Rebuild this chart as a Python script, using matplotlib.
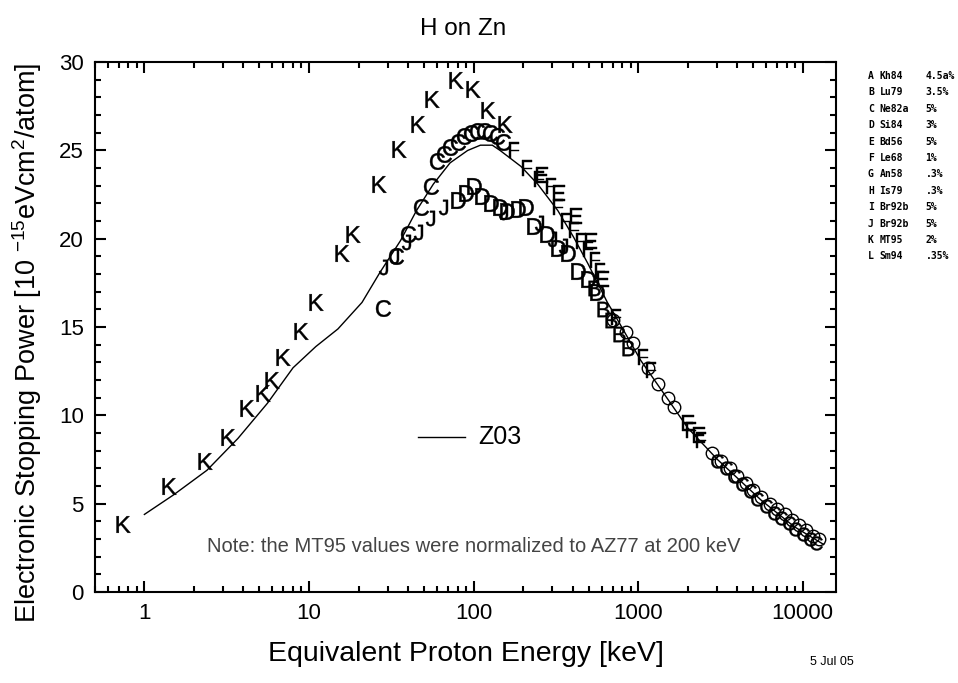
import matplotlib
matplotlib.use("Agg")
import matplotlib.pyplot as plt
from matplotlib.ticker import FixedLocator, MultipleLocator, LogLocator, NullFormatter

plt.rcParams['font.family'] = ['Liberation Sans', 'DejaVu Sans']
plt.rcParams['mathtext.fontset'] = 'custom'
plt.rcParams['mathtext.rm'] = 'Liberation Sans'

# Z03 theory curve
z03_x = [1.0, 1.5, 2.4, 3.7, 5.6, 8.0, 11, 15, 21, 27, 36, 45, 57, 72, 92, 110, 130, 145,
         194, 245, 325, 405, 495, 650, 700, 1040, 1520, 2000, 3040, 5600, 8900, 13400]
z03_y = [4.4, 5.5, 6.9, 8.7, 10.7, 12.7, 13.9, 14.9, 16.4, 18.1, 19.9, 21.6, 23.1, 24.3, 25.0, 25.3, 25.3, 25.0,
         24.1, 23.1, 21.6, 20.1, 18.6, 16.4, 15.9, 13.1, 10.9, 9.3, 7.5, 5.2, 3.7, 2.7]

# K : MT95
k_x = [0.74, 1.42, 2.32, 3.21, 4.19, 5.24, 5.95, 6.94, 8.93, 11.0, 15.9, 18.5, 26.7, 35.4,
       46.2, 56.3, 77.7, 99, 122, 155]
k_y = [3.85, 6.0, 7.4, 8.8, 10.4, 11.3, 12.0, 13.3, 14.8, 16.4, 19.2, 20.3, 23.1, 25.1,
       26.5, 27.9, 29.0, 28.5, 27.3, 26.5]

# C : Ne82a
c_x = [28, 34, 40, 48, 55, 60, 66, 72, 80, 88, 96, 105, 115, 125, 138, 150]
c_y = [16.1, 19.0, 20.3, 21.8, 23.0, 24.4, 24.8, 25.2, 25.5, 25.8, 26.0, 26.1, 26.1, 26.0, 25.8, 25.5]

# J : Br92b (lower band, low energy side)
j_x = [28, 33, 39, 46, 54, 65, 150, 250, 300, 350]
j_y = [18.4, 19.0, 19.8, 20.4, 21.2, 21.8, 21.5, 20.9, 20.0, 19.6]

# D : Si84 (lower band)
d_x = [80, 90, 100, 112, 127, 145, 160, 185, 208, 232, 280, 325, 375, 430, 495, 560]
d_y = [22.2, 22.6, 23.0, 22.4, 22.0, 21.8, 21.6, 21.7, 21.8, 20.7, 20.3, 19.5, 19.2, 18.2, 17.7, 17.0]

# F : Le68
f_x = [175, 212, 250, 295, 325, 365, 405, 450, 495, 545, 590, 730, 1070, 1200, 2100, 2400]
f_y = [25.0, 24.0, 23.4, 23.0, 21.8, 21.0, 20.5, 19.9, 19.4, 18.8, 18.2, 15.6, 13.3, 12.6, 9.2, 8.6]

# E : Bd56
e_x = [260, 330, 420, 520, 610, 2000, 2350]
e_y = [23.6, 22.6, 21.3, 19.9, 17.7, 9.6, 8.9]

# B : Lu79
b_x = [540, 612, 680, 760, 870]
b_y = [17.2, 16.0, 15.4, 14.6, 13.8]

# A : Kh84 (open circles, high energy)
a_x = [700, 840, 930, 1150, 1320, 1520, 1660, 2800, 3200, 3600, 4000, 4500, 5000, 5600,
       6300, 7000, 7800, 8600, 9500, 10500, 11500, 12500]
a_y = [15.4, 14.7, 14.1, 12.7, 11.8, 11.0, 10.5, 7.9, 7.4, 7.0, 6.6, 6.2, 5.8, 5.4,
       5.0, 4.7, 4.4, 4.1, 3.8, 3.5, 3.2, 3.0]

# G : An58 (second high-energy band)
g_x = [3000, 3400, 3800, 4300, 4800, 5300, 6000, 6700, 7400, 8200, 9000, 10000, 11000, 12000]
g_y = [7.4, 7.0, 6.6, 6.1, 5.7, 5.3, 4.9, 4.5, 4.2, 3.9, 3.6, 3.3, 3.0, 2.8]

legend_letters = ["A", "B", "C", "D", "E", "F", "G", "H", "I", "J", "K", "L"]
legend_refs = ["Kh84", "Lu79", "Ne82a", "Si84", "Bd56", "Le68", "An58", "Is79", "Br92b", "Br92b", "MT95", "Sm94"]
legend_errs = ["4.5a%", "3.5%", "5%", "3%", "5%", "1%", ".3%", ".3%", "5%", "5%", "2%", ".35%"]

xticks = [1, 10, 100, 1000, 10000]
xticklabels = ["1", "10", "100", "1000", "10000"]
yticks = [0, 5, 10, 15, 20, 25, 30]

fig = plt.figure(figsize=(9.58, 6.83), dpi=100)
ax = fig.add_axes([0.099, 0.133, 0.774, 0.776])

ax.plot(z03_x, z03_y, color='black', lw=1.0)

def letters(x, y, ch, ms=12):
    ax.plot(x, y, ls='none', marker=r'$\mathrm{%s}$' % ch, ms=ms, color='black', mew=0.3)

letters(k_x, k_y, 'K', 12)
letters(c_x, c_y, 'C', 12)
letters(j_x, j_y, 'J', 11)
letters(d_x, d_y, 'D', 12)
letters(f_x, f_y, 'F', 11)
letters(e_x, e_y, 'E', 11)
letters(b_x, b_y, 'B', 11)
ax.plot(a_x, a_y, ls='none', marker='o', ms=9, mfc='none', mec='black', mew=1.0)
letters(g_x, g_y, 'C', 10)

ax.set_xscale('log')
ax.set_xlim(0.5, 16000)
ax.set_ylim(0, 30)
ax.xaxis.set_major_locator(FixedLocator(xticks))
ax.set_xticklabels(xticklabels)
ax.xaxis.set_minor_locator(LogLocator(base=10, subs=range(2, 10), numticks=20))
ax.xaxis.set_minor_formatter(NullFormatter())
ax.yaxis.set_major_locator(FixedLocator(yticks))
ax.yaxis.set_minor_locator(MultipleLocator(1))
ax.tick_params(which='both', direction='in', top=True, right=True, labelsize=16, width=1.5)
ax.tick_params(which='major', length=8, pad=8)
ax.tick_params(which='minor', length=4)
for s in ax.spines.values():
    s.set_linewidth(1.5)

ax.set_xlabel("Equivalent Proton Energy [keV]", fontsize=20.5, labelpad=12)
ax.set_ylabel(r"Electronic Stopping Power [10 $^{-15}$eVcm$^2$/atom]", fontsize=19.5)
ax.yaxis.set_label_coords(-0.068, 0.47)
fig.text(0.483, 0.958, "H on Zn", ha='center', va='center', fontsize=17.5)

# Z03 legend
ax.plot([46, 89], [8.8, 8.8], color='black', lw=1.0)
ax.text(107, 8.8, "Z03", fontsize=18, va='center', ha='left')

ax.text(100, 2.6, "Note: the MT95 values were normalized to AZ77 at 200 keV",
        fontsize=14.5, color='#444444', ha='center', va='center')

fig.text(0.868, 0.031, "5 Jul 05", fontsize=9, ha='center', va='center')

for i, (l, r, e) in enumerate(zip(legend_letters, legend_refs, legend_errs)):
    yy = 1 - (76 + i * 16.4) / 683
    fig.text(0.906, yy, l, fontsize=7, family='DejaVu Sans Mono', weight='bold', va='center')
    fig.text(0.918, yy, r, fontsize=7, family='DejaVu Sans Mono', weight='bold', va='center')
    fig.text(0.966, yy, e, fontsize=7, family='DejaVu Sans Mono', weight='bold', va='center')

fig.savefig("out.png", dpi=100)
